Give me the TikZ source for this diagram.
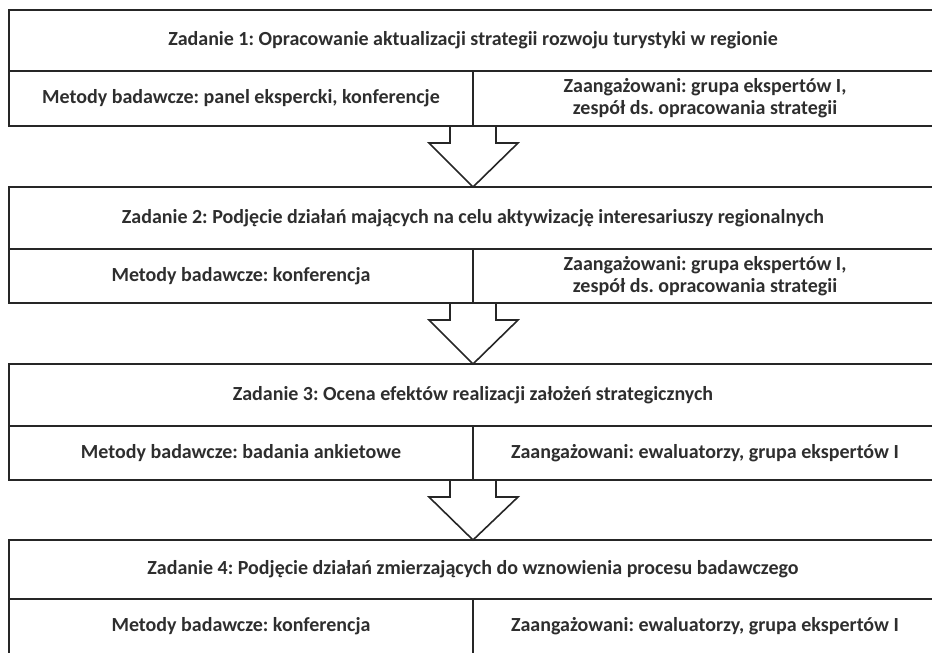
\documentclass[tikz,border=0pt]{standalone}
\usepackage{fontspec}
\setmainfont{Carlito}
\usetikzlibrary{calc}

\tikzset{
  cell/.style={draw=black!85, line width=1.6pt, rectangle, inner sep=0pt,
    outer sep=0pt, font=\frenchspacing\bfseries\fontsize{20}{22}\selectfont,
    text=black!82, align=center},
  title/.style={cell, minimum width=928pt},
  half/.style={cell, minimum width=464pt},
  flow/.style={draw=black!85, line width=1.6pt, line join=miter}
}

% open block arrow from the bottom of one task box to the top of the next
\newcommand{\taskarrow}[2]{%
  \draw[flow] ($(#1)+(-23,0)$) -- ++(0,17) -- ++(-21,0) -- (#2)
    -- ($(#1)+(45,17)$) -- ++(-22,0) -- ++(0,-17);}

\begin{document}
\begin{tikzpicture}[x=1pt, y=-1pt]
\useasboundingbox (0,0) rectangle (932,653);

% task 1
\node[title, minimum height=61pt] (t1) at (473,40.5)
  {Zadanie 1: Opracowanie aktualizacji strategii rozwoju turystyki w regionie};
\node[half, minimum height=55pt] (m1) at (241,98.5)
  {Metody badawcze: panel ekspercki, konferencje};
\node[half, minimum height=55pt] (z1) at (705,98.5)
  {Zaangażowani: grupa ekspertów I,\\zespół ds. opracowania strategii};

% task 2
\node[title, minimum height=62pt] (t2) at (473,218)
  {Zadanie 2: Podjęcie działań mających na celu aktywizację interesariuszy regionalnych};
\node[half, minimum height=54pt] (m2) at (241,276)
  {Metody badawcze: konferencja};
\node[half, minimum height=54pt] (z2) at (705,276)
  {Zaangażowani: grupa ekspertów I,\\zespół ds. opracowania strategii};

% task 3
\node[title, minimum height=62pt] (t3) at (473,395)
  {Zadanie 3: Ocena efektów realizacji założeń strategicznych};
\node[half, minimum height=54pt] (m3) at (241,453)
  {Metody badawcze: badania ankietowe};
\node[half, minimum height=54pt] (z3) at (705,453)
  {Zaangażowani: ewaluatorzy, grupa ekspertów I};

% task 4
\node[title, minimum height=59pt] (t4) at (473,569.5)
  {Zadanie 4: Podjęcie działań zmierzających do wznowienia procesu badawczego};
\node[half, minimum height=55pt] (m4) at (241,626.5)
  {Metody badawcze: konferencja};
\node[half, minimum height=55pt] (z4) at (705,626.5)
  {Zaangażowani: ewaluatorzy, grupa ekspertów I};

% arrows between tasks
\taskarrow{m1.south east}{t2.north}
\taskarrow{m2.south east}{t3.north}
\taskarrow{m3.south east}{t4.north}
\end{tikzpicture}
\end{document}
